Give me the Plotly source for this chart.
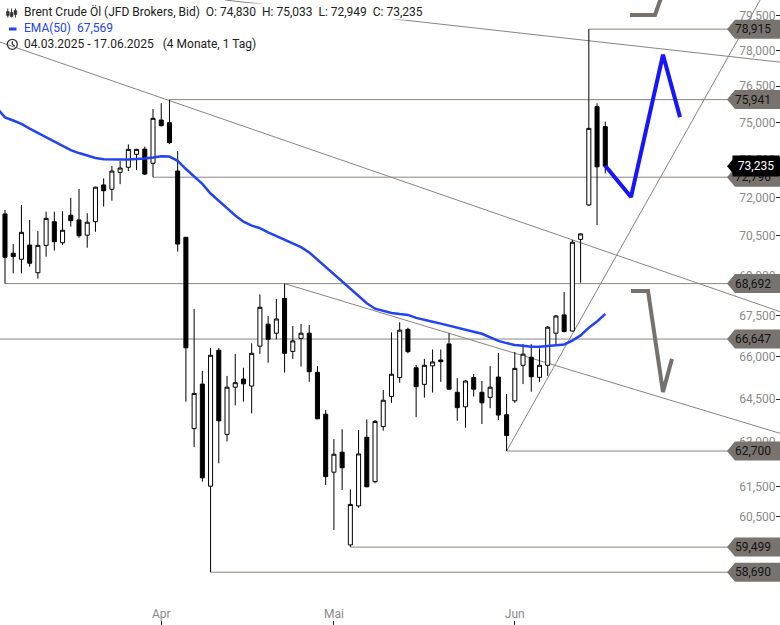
import math
import pandas as pd
import plotly.graph_objects as go

# ---------------- data ----------------
dates = [d.strftime("%Y-%m-%d") for d in pd.bdate_range("2025-03-04", "2025-06-17")
         if d.strftime("%Y-%m-%d") != "2025-04-18"]

open_ = [None,
         71.35, 69.84, 69.61, 70.15, 69.10, 70.14, 71.05, 70.24, 71.30, 71.12,
         70.53, 71.05, 72.49, 72.32, 72.99, 73.19, 73.71, 73.92, 73.35, 75.10,
         74.99, 73.04, 70.45, 63.47, 65.03, 61.51, 66.24, 63.27, 64.92, 65.21,
         64.96, 66.39, 67.19, 66.86, 68.14, 66.20, 66.67, 66.86, 65.45, 63.97,
         61.98, 62.66, 59.57, 60.85, 63.17, 61.66, 63.54, 64.59, 65.26, 67.00,
         65.61, 65.02, 65.68, 65.89, 66.47, 64.74, 64.23, 65.26, 64.74, 64.56,
         65.28, 63.95, 64.44, 65.70, 65.99, 65.27, 65.70, 66.86, 67.53, 66.94,
         70.37, 71.70, 75.65, 74.830]
high = [None,
        71.51, 70.19, 71.70, 71.12, 70.69, 71.44, 71.44, 71.46, 71.98, 72.33,
        71.38, 72.42, 72.75, 73.24, 73.44, 74.11, 73.93, 74.02, 75.55, 75.79,
        75.941, 73.84, 70.46, 67.75, 65.50, 66.32, 66.32, 65.32, 66.11, 65.61,
        66.49, 68.29, 67.49, 68.12, 68.692, 67.12, 67.20, 67.16, 65.67, 64.12,
        63.11, 63.45, 61.40, 63.42, 63.79, 63.77, 64.82, 66.89, 67.26, 67.06,
        65.71, 65.93, 66.27, 66.27, 66.86, 65.24, 65.17, 65.39, 65.14, 65.67,
        66.14, 64.68, 66.18, 66.47, 66.47, 66.31, 67.12, 67.53, 68.38, 70.35,
        70.60, 78.915, 75.79, 75.033]
low = [None,
       68.692, 69.08, 69.08, 69.33, 68.88, 69.71, 69.94, 70.15, 70.86, 70.43,
       70.05, 70.66, 71.64, 71.87, 72.52, 73.04, 73.08, 72.88, 72.796, 74.83,
       74.12, 69.90, 64.41, 62.83, 61.66, 58.690, 62.28, 63.03, 64.28, 64.41,
       64.00, 66.11, 65.79, 66.64, 65.44, 65.93, 65.65, 65.11, 63.80, 61.55,
       60.06, 61.38, 59.499, 60.79, 61.47, 61.61, 63.40, 64.37, 65.08, 66.13,
       63.87, 64.55, 64.73, 65.11, 64.84, 63.74, 63.50, 64.59, 63.63, 64.18,
       63.77, 62.700, 64.37, 65.03, 64.76, 65.11, 65.32, 66.43, 66.89, 66.92,
       68.73, 71.66, 70.92, 72.949]
close = [None,
         69.69, 69.71, 70.64, 69.46, 70.14, 71.18, 70.28, 70.72, 71.09, 70.51,
         71.03, 72.40, 72.26, 73.04, 73.16, 73.91, 73.91, 72.92, 75.17, 74.87,
         74.18, 70.19, 66.33, 64.70, 61.79, 66.06, 63.74, 64.92, 65.08, 65.04,
         66.13, 67.81, 66.64, 67.38, 66.13, 66.58, 66.86, 65.47, 63.81, 61.83,
         62.59, 62.13, 60.90, 62.60, 61.49, 63.72, 64.46, 65.38, 66.97, 66.19,
         64.94, 65.70, 65.82, 65.83, 64.85, 64.20, 65.14, 64.85, 64.37, 64.92,
         63.94, 63.23, 65.59, 66.10, 65.29, 65.70, 67.08, 67.49, 66.92, 70.26,
         70.58, 74.76, 73.21, 73.235]
ema50 = [75.60,
         75.21, 75.08, 74.94, 74.75, 74.57, 74.39, 74.21, 74.04, 73.88, 73.76,
         73.66, 73.56, 73.51, 73.49, 73.50, 73.50, 73.51, 73.54, 73.58, 73.63,
         73.62, 73.45, 73.12, 72.82, 72.53, 72.15, 71.88, 71.58, 71.29, 71.05,
         70.90, 70.80, 70.64, 70.50, 70.37, 70.22, 70.07, 69.87, 69.59, 69.32,
         69.04, 68.77, 68.50, 68.20, 67.96, 67.76, 67.68, 67.60, 67.56, 67.53,
         67.42, 67.34, 67.28, 67.21, 67.13, 67.07, 66.99, 66.91, 66.84, 66.71,
         66.58, 66.50, 66.43, 66.40, 66.37, 66.37, 66.39, 66.41, 66.45, 66.59,
         66.78, 67.06, 67.29, 67.569]

month_tick_dates = ["2025-04-01", "2025-05-01", "2025-06-02"]
month_tick_text = ["Apr", "Mai", "Jun"]

ytick_vals = [79.5, 78.0, 76.5, 75.0, 73.5, 72.0, 70.5, 69.0, 67.5, 66.0, 64.5, 63.0, 61.5, 60.5, 57.5]
ytick_text = ["79,500", "78,000", "76,500", "75,000", "73,500", "72,000", "70,500", "69,000",
              "67,500", "66,000", "64,500", "63,000", "61,500", "60,500", "57,500"]

# horizontal support / resistance levels and the date they start from
level_values = [78.915, 75.941, 72.796, 68.692, 66.647, 62.700, 59.499, 58.690]
level_start = ["2025-06-13", "2025-04-02", "2025-03-31", "2025-03-05", None,
               "2025-05-30", "2025-05-05", "2025-04-09"]

last_close = 73.235

# trend lines (x in bar index units, y in price)
trend_lines = [
    ((27.75, 80.18), (96.5, 77.46)),
    ((-0.82, 78.51), (96.5, 67.52)),
    ((35.0, 68.692), (96.5, 63.20)),
    ((62.0, 62.700), (94.2, 81.06)),
]
# hand-drawn forecast paths
blue_path_x = [74.0, 77.13, 81.02, 83.09]
blue_path_y = [73.25, 72.01, 77.82, 75.22]
gray_path_x = [77.13, 79.2, 81.02, 82.11]
gray_path_y = [68.42, 68.42, 64.75, 65.93]
gray_top_x = [77.0, 80.05, 80.9]
gray_top_y = [79.53, 79.53, 80.40]

# ---------------- figure ----------------
W, H = 780, 625
FONT = "Roboto, Arial, sans-serif"
GRAY_LINE = "#8a8582"
LABEL_GRAY = "#78736f"
EMA_BLUE = "#2343f2"

x = list(range(len(dates)))

fig = go.Figure()
fig.add_trace(go.Candlestick(
    x=x, open=open_, high=high, low=low, close=close,
    increasing=dict(line=dict(color="black", width=1), fillcolor="white"),
    decreasing=dict(line=dict(color="black", width=1), fillcolor="black"),
    whiskerwidth=0, hovertext=dates, showlegend=False))
fig.add_trace(go.Scatter(x=x, y=ema50, mode="lines",
                         line=dict(color=EMA_BLUE, width=2.5), showlegend=False, hoverinfo="skip"))
fig.add_trace(go.Scatter(x=blue_path_x, y=blue_path_y, mode="lines",
                         line=dict(color="#1515ff", width=4), showlegend=False, hoverinfo="skip"))
fig.add_trace(go.Scatter(x=gray_path_x, y=gray_path_y, mode="lines",
                         line=dict(color="#77716e", width=4), showlegend=False, hoverinfo="skip"))
fig.add_trace(go.Scatter(x=gray_top_x, y=gray_top_y, mode="lines",
                         line=dict(color="#77716e", width=4), showlegend=False, hoverinfo="skip"))

shapes = []
for v, d in zip(level_values, level_start):
    x0 = dates.index(d) if d else -3
    shapes.append(dict(type="line", xref="x", yref="y", x0=x0, x1=120, y0=v, y1=v,
                       line=dict(color=GRAY_LINE, width=1), layer="below"))
for (a, b) in trend_lines:
    shapes.append(dict(type="line", xref="x", yref="y", x0=a[0], y0=a[1], x1=b[0], y1=b[1],
                       line=dict(color=GRAY_LINE, width=1), layer="below"))

label_path = "M 0,9.5 L -45,9.5 L -53,0 L -45,-9.5 L 0,-9.5 Z"
annotations = []
for v in level_values:
    shapes.append(dict(type="path", xref="paper", yref="y", xsizemode="pixel", ysizemode="pixel",
                       xanchor=1, yanchor=v, path=label_path, fillcolor=LABEL_GRAY,
                       line=dict(width=0), layer="above"))
    annotations.append(dict(xref="paper", yref="y", x=1, y=math.log10(v), xanchor="right",
                            yanchor="middle", xshift=-7, showarrow=False,
                            text=f"{v:.3f}".replace(".", ","),
                            font=dict(family=FONT, size=12, color="#141414")))
shapes.append(dict(type="path", xref="paper", yref="y", xsizemode="pixel", ysizemode="pixel",
                   xanchor=1, yanchor=last_close, path=label_path, fillcolor="black",
                   line=dict(width=0), layer="above"))
annotations.append(dict(xref="paper", yref="y", x=1, y=math.log10(last_close), xanchor="right",
                        yanchor="middle", showarrow=False, text=f"{last_close:.3f}".replace(".", ","),
                        bgcolor="black", width=44, height=18, borderpad=1, align="center",
                        font=dict(family=FONT, size=12, color="white")))


def px(xp):
    return xp / W


def py(yp):
    return 1 - yp / H


# legend icons
for cx, (b0, b1) in zip([7.8, 11.6, 15.4], [(11.5, 15.5), (12.5, 16.5), (10.5, 14.5)]):
    shapes.append(dict(type="line", xref="paper", yref="paper", x0=px(cx), x1=px(cx),
                       y0=py(8.5), y1=py(17.5), line=dict(color="#333", width=1), layer="above"))
    shapes.append(dict(type="rect", xref="paper", yref="paper", x0=px(cx - 1.4), x1=px(cx + 1.4),
                       y0=py(b0), y1=py(b1), fillcolor="#333", line=dict(color="#333", width=0.5),
                       layer="above"))
shapes.append(dict(type="rect", xref="paper", yref="paper", x0=px(9), x1=px(16.5),
                   y0=py(27.5), y1=py(30.5), fillcolor=EMA_BLUE, line=dict(width=0), layer="above"))
shapes.append(dict(type="circle", xref="paper", yref="paper", x0=px(7.3), x1=px(17.3),
                   y0=py(39.3), y1=py(49.3), line=dict(color="#333", width=1.3), layer="above"))
shapes.append(dict(type="line", xref="paper", yref="paper", x0=px(12.3), x1=px(12.3),
                   y0=py(44.3), y1=py(41.2), line=dict(color="#333", width=1.3), layer="above"))
shapes.append(dict(type="line", xref="paper", yref="paper", x0=px(12.3), x1=px(14.6),
                   y0=py(44.3), y1=py(46.0), line=dict(color="#333", width=1.3), layer="above"))

nb = "\u00a0"
legend_lines = [
    (12, f"Brent Crude Öl (JFD Brokers, Bid){nb*2}O: 74,830{nb*2}H: 75,033{nb*2}L: 72,949{nb*2}C: 73,235", "#222", "white"),
    (28, f"EMA(50){nb*2}67,569", EMA_BLUE, "rgba(0,0,0,0)"),
    (44, f"04.03.2025 - 17.06.2025{nb*3}(4 Monate, 1 Tag)", "#222", "rgba(0,0,0,0)"),
]
for yy, txt, col, bg in legend_lines:
    annotations.append(dict(xref="paper", yref="paper", x=px(23), y=py(yy), xanchor="left",
                            yanchor="middle", showarrow=False, text=txt, bgcolor=bg, borderpad=0,
                            font=dict(family=FONT, size=12, color=col)))

fig.update_layout(
    width=W, height=H, margin=dict(l=0, r=0, t=0, b=0),
    paper_bgcolor="white", plot_bgcolor="white",
    showlegend=False, hovermode=False,
    shapes=shapes, annotations=annotations,
    xaxis=dict(range=[0.392, 95.25], tickmode="array",
               tickvals=[dates.index(d) for d in month_tick_dates], ticktext=month_tick_text,
               ticks="inside", ticklen=4, tickcolor="#222", ticklabelposition="inside",
               tickfont=dict(family=FONT, size=12, color="#8a8a8a"),
               showgrid=False, zeroline=False, showline=False, rangeslider=dict(visible=False),
               fixedrange=True),
    yaxis=dict(type="log", side="right", range=[math.log10(57.025), math.log10(80.18)],
               tickmode="array", tickvals=ytick_vals, ticktext=ytick_text,
               ticks="inside", ticklen=4, tickcolor="#222", ticklabelposition="inside",
               tickfont=dict(family=FONT, size=12, color="#8a8a8a"),
               showgrid=False, zeroline=False, showline=False, fixedrange=True),
)

fig.write_html("out.html", config={"displayModeBar": False},
               post_script="document.body.style.margin='0';document.body.style.padding='0';"
                           "document.body.style.overflow='hidden';")
